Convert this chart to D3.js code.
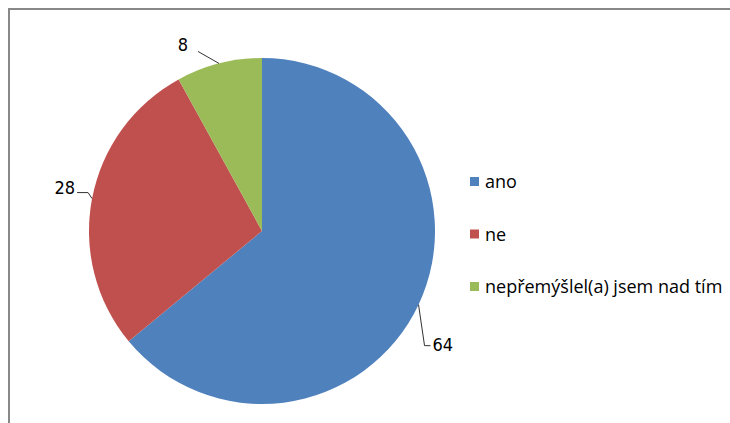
<!DOCTYPE html>
<html lang="cs">
<head>
<meta charset="UTF-8">
<title>Pie</title>
<script src="https://d3js.org/d3.v7.min.js"></script>
<style>
  body { margin: 0; padding: 0; background: #fff; }
  svg { display: block; }
</style>
</head>
<body>
<svg id="chart" width="730" height="423"></svg>
<script>
var categories = ["ano", "ne", "nepřemýšlel(a) jsem nad tím"];
var values = [64, 28, 8];
var colors = ["#4F81BD", "#C0504D", "#9BBB59"];

var svg = d3.select("#chart");

// chart frame (right and bottom edges fall outside the picture)
svg.append("rect")
    .attr("x", 9).attr("y", 9)
    .attr("width", 740).attr("height", 440)
    .attr("fill", "none")
    .attr("stroke", "#888")
    .attr("stroke-width", 2);

var cx = 262, cy = 231, r = 173;

var pie = d3.pie().sort(null).value(function (d) { return d; });
var arc = d3.arc().innerRadius(0).outerRadius(r);
var arcs = pie(values);

var g = svg.append("g").attr("transform", "translate(" + cx + "," + cy + ")");

g.selectAll("path")
    .data(arcs)
    .enter().append("path")
    .attr("d", arc)
    .attr("fill", function (d, i) { return colors[i]; });

// leader lines + labels, offsets relative to the point on the rim
var labelPos = [
    { elbow: [6, 41], end: [12, 41], tx: 14, ty: 46, anchor: "start" },
    { elbow: [-4, -6], end: [-15, -6], tx: -17, ty: -5, anchor: "end" },
    { elbow: [-21, -12], end: [-21, -12], tx: -36, ty: -12, anchor: "middle" }
];

arcs.forEach(function (a, i) {
    var mid = (a.startAngle + a.endAngle) / 2;
    var px = Math.sin(mid) * r, py = -Math.cos(mid) * r;
    var p = labelPos[i];
    g.append("polyline")
        .attr("points", [[px, py], [px + p.elbow[0], py + p.elbow[1]], [px + p.end[0], py + p.end[1]]]
            .map(function (q) { return q.join(","); }).join(" "))
        .attr("fill", "none")
        .attr("stroke", "#333")
        .attr("stroke-width", 1);
    g.append("text")
        .attr("x", px + p.tx)
        .attr("y", py + p.ty)
        .attr("text-anchor", p.anchor)
        .attr("font-family", "'Liberation Sans Narrow', 'DejaVu Sans Condensed', sans-serif")
        .attr("font-size", 18)
        .attr("fill", "#000")
        .text(values[i]);
});

// legend
var legend = svg.append("g");
var ly = d3.scalePoint().domain(categories).range([182, 287]);

legend.selectAll("rect")
    .data(categories)
    .enter().append("rect")
    .attr("x", 470)
    .attr("y", function (d) { return ly(d) - 5; })
    .attr("width", 9).attr("height", 9)
    .attr("fill", function (d, i) { return colors[i]; });

legend.selectAll("text")
    .data(categories)
    .enter().append("text")
    .attr("x", 485)
    .attr("y", function (d) { return ly(d) + 6; })
    .attr("font-family", "'Open Sans', 'Noto Sans', sans-serif")
    .attr("font-size", 18)
    .attr("fill", "#000")
    .text(function (d) { return d; });
</script>
</body>
</html>
